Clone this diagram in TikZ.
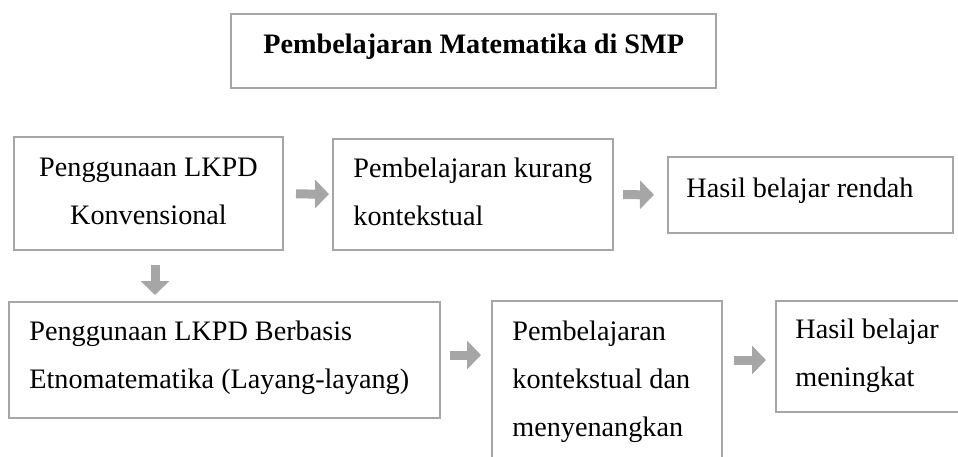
\documentclass[tikz,border=0pt]{standalone}
\usepackage{fontspec}
\setmainfont{Liberation Serif}
\usetikzlibrary{arrows.meta,fit}
\definecolor{boxgray}{HTML}{A6A6A6}
\definecolor{arrowgray}{HTML}{A6A6A6}
\tikzset{
    box/.style={draw=boxgray, line width=1pt, inner sep=0pt},
    txt/.style={inner sep=0pt, font=\fontsize{14.1}{24}\selectfont},
    blockarrow/.style={draw=arrowgray, line width=4.5pt, -{Triangle[length=7pt,width=14pt]}}
}

\begin{document}
\begin{tikzpicture}[x=0.5pt, y=-0.5pt]
    \path[use as bounding box, clip] (0,0) rectangle (958,456);

    \node (title) [box, fit={(231,14) (716,88)}] {};
    \node (A) [box, fit={(14,137) (283,250)}] {};
    \node (B) [box, fit={(333,139) (613,250)}] {};
    \node (C) [box, fit={(668,157) (953,233)}] {};
    \node (D) [box, fit={(9,302) (440,418)}] {};
    \node (E) [box, fit={(492,301) (722,480)}] {};
    \node (F) [box, fit={(776,301) (975,412)}] {};

    \node (titletxt) [txt, anchor=base west, font=\fontsize{14.1}{24}\selectfont\bfseries] at (263,53) {Pembelajaran Matematika di SMP};
    \node (Atxt) [txt, anchor=base, align=center] at (148.5,224) {Penggunaan LKPD\\Konvensional};
    \node (Btxt) [txt, anchor=base west, align=left] at (353,225) {Pembelajaran kurang\\kontekstual};
    \node (Ctxt) [txt, anchor=base west] at (686,197) {Hasil belajar rendah};
    \node (Dtxt) [txt, anchor=base west, align=left] at (29,388) {Penggunaan LKPD Berbasis\\Etnomatematika (Layang-layang)};
    \node (Etxt) [txt, anchor=base west, align=left] at (512,436) {Pembelajaran\\kontekstual dan\\menyenangkan};
    \node (Ftxt) [txt, anchor=base west, align=left] at (795,386) {Hasil belajar\\meningkat};

    \draw[blockarrow, shorten <=6pt, shorten >=1.5pt] (A) -- (B);
    \draw[blockarrow, shorten <=4.5pt, shorten >=6.5pt] (B) -- (C);
    \draw[blockarrow, shorten <=7pt, shorten >=3pt] ([xshift=3.25pt]A.south) -- ([xshift=3.25pt]A.south |- D.north);
    \draw[blockarrow, shorten <=4.5pt, shorten >=5pt] ([yshift=2.5pt]D.east) -- ([yshift=2.5pt]D.east -| E.west);
    \draw[blockarrow, shorten <=5.5pt, shorten >=4.5pt] ([yshift=-1.75pt]F.west -| E.east) -- ([yshift=-1.75pt]F.west);
\end{tikzpicture}
\end{document}
